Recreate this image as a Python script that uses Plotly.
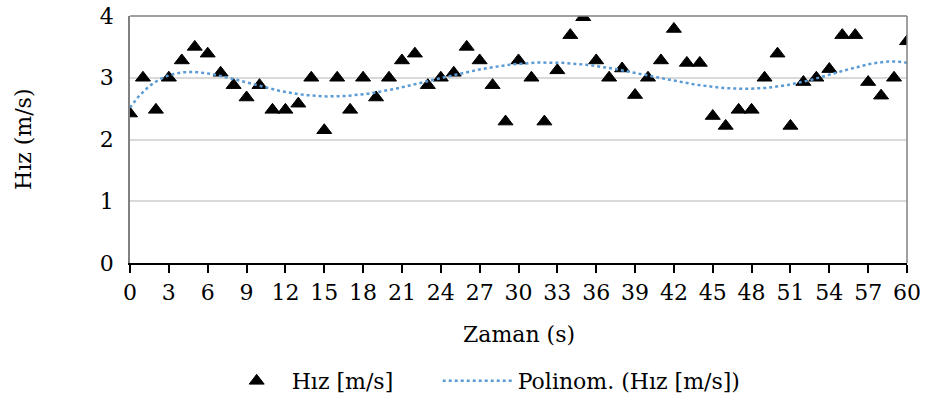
import numpy as np
import plotly.graph_objects as go

time_s = list(range(0, 61))
speed = [2.42, 3.0, 2.48, 3.0, 3.28, 3.5, 3.39, 3.08, 2.88, 2.68,
         2.88, 2.48, 2.48, 2.58, 3.0, 2.15, 3.0, 2.48, 3.0, 2.68,
         3.0, 3.28, 3.39, 2.88, 3.0, 3.08, 3.5, 3.28, 2.88, 2.29,
         3.28, 3.0, 2.29, 3.12, 3.69, 3.98, 3.28, 3.0, 3.15, 2.72,
         3.0, 3.28, 3.79, 3.24, 3.24, 2.38, 2.22, 2.48, 2.48, 3.0,
         3.39, 2.22, 2.93, 3.0, 3.14, 3.69, 3.69, 2.93, 2.71, 3.0,
         3.59]
x_ticks = list(range(0, 61, 3))
y_ticks = [0, 1, 2, 3, 4]

# Excel-style polynomial (order 6) trendline fitted to the data
coef = np.polyfit(time_s, speed, 6)
trend_x = np.linspace(0, 60, 301)
trend_y = np.polyval(coef, trend_x)

FONT = "DejaVu Serif"
FS = 22

fig = go.Figure()
fig.add_trace(go.Scatter(
    x=time_s, y=speed, mode="markers", name="Hız [m/s]", legend="legend",
    marker=dict(symbol="triangle-up", size=13, color="black",
                line=dict(color="black", width=1)),
))
fig.add_trace(go.Scatter(
    x=trend_x, y=trend_y, mode="lines", name="Polinom. (Hız [m/s])",
    legend="legend2",
    line=dict(color="#5B9BD5", width=2.5, dash="dot"),
))

fig.update_layout(
    width=925, height=401,
    margin=dict(l=130, r=18, t=15.5, b=137.5, autoexpand=False),
    paper_bgcolor="white", plot_bgcolor="white",
    font=dict(family=FONT, size=FS, color="black"),
    showlegend=True,
    legend=dict(orientation="h", x=0.118, xanchor="left", y=-0.478,
                yanchor="middle", font=dict(size=FS, family=FONT),
                itemwidth=60, bgcolor="rgba(0,0,0,0)"),
    legend2=dict(orientation="h", x=0.396, xanchor="left", y=-0.478,
                 yanchor="middle", font=dict(size=FS, family=FONT),
                 itemwidth=70, bgcolor="rgba(0,0,0,0)"),
    xaxis=dict(range=[0, 60], tickvals=x_ticks, ticks="outside", ticklen=8,
               tickwidth=1.5, tickcolor="black", showline=True,
               linecolor="black", linewidth=2, mirror=False,
               showgrid=False, zeroline=False, ticklabelstandoff=1,
               automargin=False,
               tickfont=dict(size=FS, family=FONT)),
    yaxis=dict(range=[0, 4], tickvals=y_ticks, showgrid=True,
               gridcolor="#D9D9D9", gridwidth=1.5, zeroline=False,
               showline=True, linecolor="#808080", linewidth=1.5,
               mirror=False, ticks="", ticklabelstandoff=10,
               automargin=False,
               tickfont=dict(size=FS, family=FONT)),
    shapes=[
        dict(type="line", xref="paper", yref="paper", x0=0, x1=1, y0=1, y1=1,
             line=dict(color="#808080", width=1.5)),
        dict(type="line", xref="paper", yref="paper", x0=1, x1=1, y0=0, y1=1,
             line=dict(color="#808080", width=1.5)),
    ],
    annotations=[
        dict(text="Zaman (s)", xref="paper", yref="paper", x=0.5,
             y=-0.29, xanchor="center", yanchor="middle", showarrow=False,
             font=dict(size=FS, family=FONT)),
        dict(text="Hız (m/s)", xref="paper", yref="paper", x=-0.137,
             y=0.5, xanchor="center", yanchor="middle", textangle=-90,
             showarrow=False, font=dict(size=FS, family=FONT)),
    ],
)

fig.write_html("out.html")
